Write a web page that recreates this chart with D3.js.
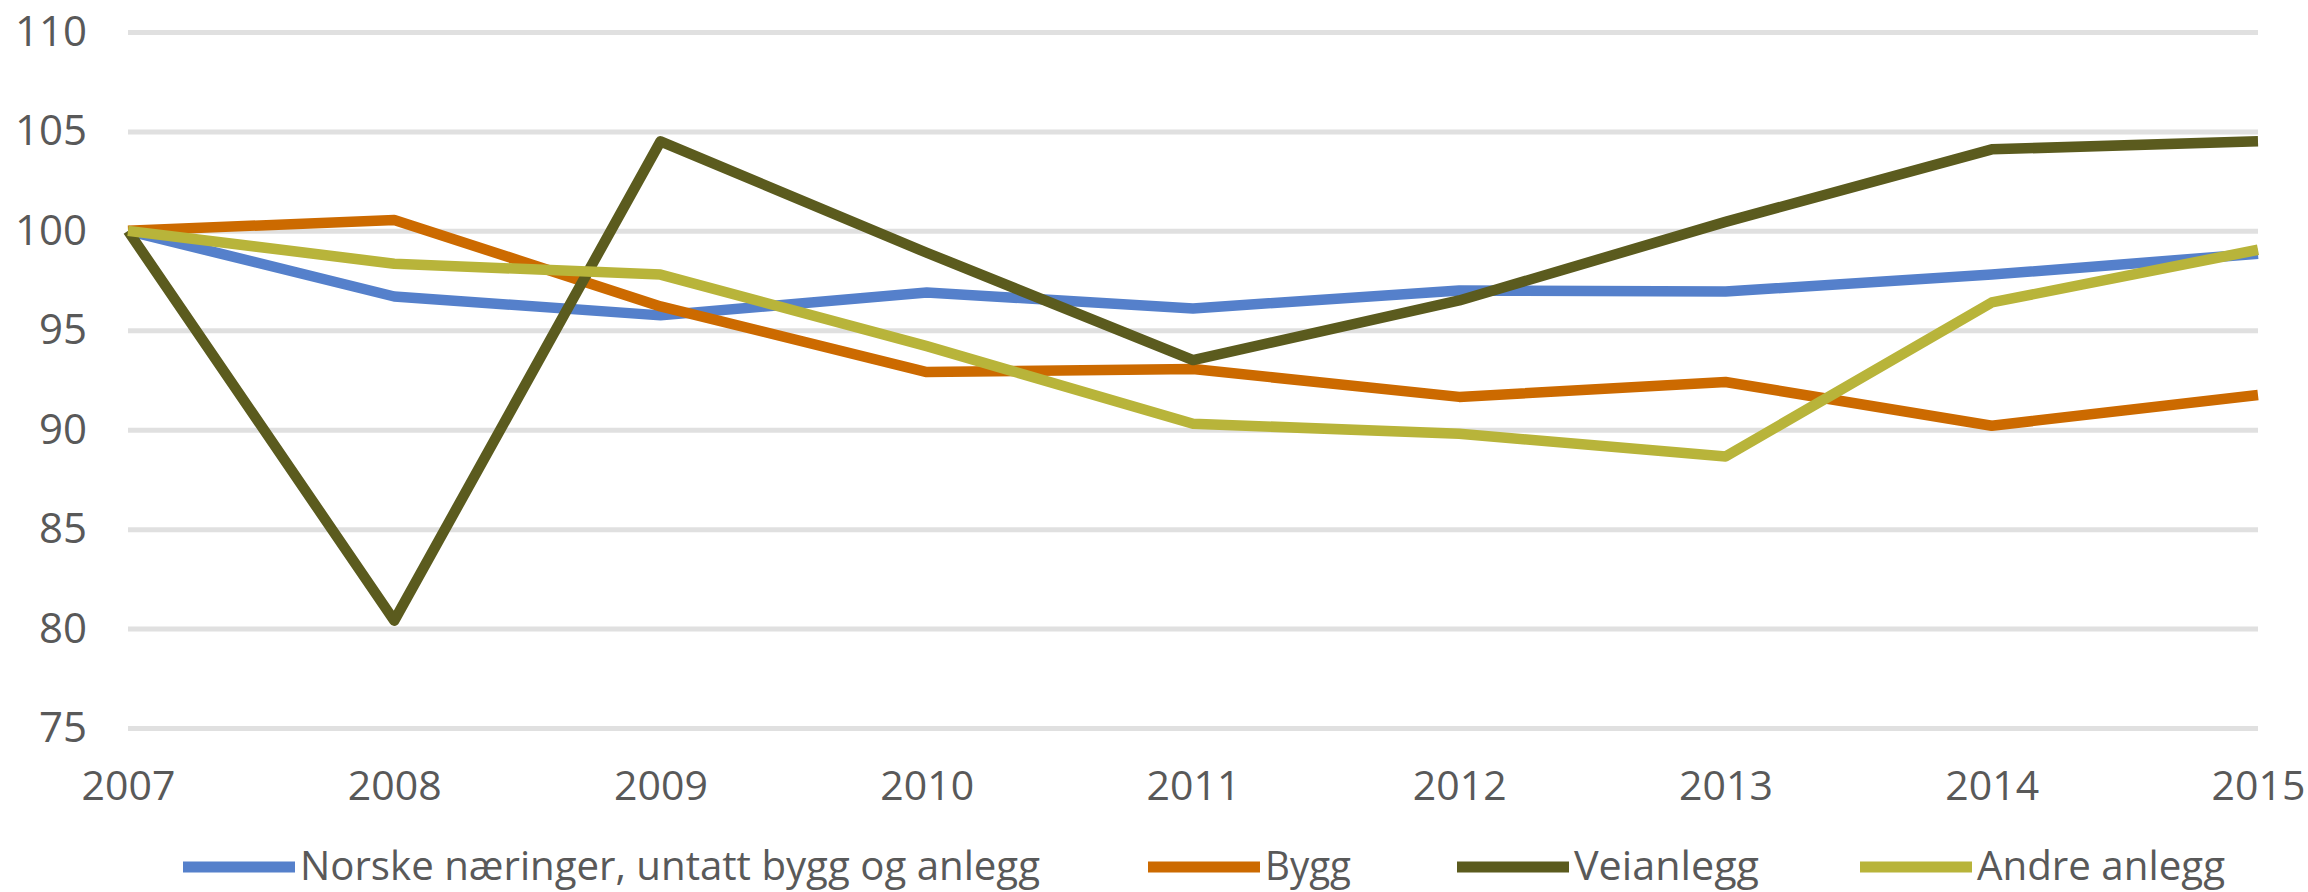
<!DOCTYPE html>
<html>
<head>
<meta charset="utf-8">
<script src="https://cdn.jsdelivr.net/npm/d3@7"></script>
<style>
  html, body { margin: 0; padding: 0; background: #fff; }
  svg { display: block; }
  .axis text { font-family: "Open Sans", sans-serif; fill: #595959; }
  .legend text { font-family: "Open Sans", sans-serif; fill: #595959; }
</style>
</head>
<body>
<svg id="chart" width="2308" height="892"></svg>
<script>
// chart data
var years = [2007, 2008, 2009, 2010, 2011, 2012, 2013, 2014, 2015];
var norske = [100, 96.7, 95.75, 96.9, 96.1, 97.0, 96.95, 97.8, 98.85];
var bygg = [100, 100.55, 96.2, 92.9, 93.05, 91.65, 92.4, 90.2, 91.75];
var veianlegg = [100, 80.4, 104.5, 98.9, 93.5, 96.5, 100.45, 104.1, 104.5];
var andre = [100, 98.35, 97.8, 94.2, 90.3, 89.8, 88.65, 96.4, 99.05];
var yTicks = [75, 80, 85, 90, 95, 100, 105, 110];
var seriesNames = ["Norske næringer, untatt bygg og anlegg", "Bygg", "Veianlegg", "Andre anlegg"];

var series = [
  { name: seriesNames[0], values: norske, color: "#5580cb" },
  { name: seriesNames[1], values: bygg, color: "#cc6a00" },
  { name: seriesNames[2], values: veianlegg, color: "#5b5b1e" },
  { name: seriesNames[3], values: andre, color: "#b8b43a" }
];

var svg = d3.select("#chart");

var x = d3.scaleLinear().domain([2007, 2015]).range([128, 2258]);
var y = d3.scaleLinear().domain([75, 110]).range([728, 32]);

// y axis with gridlines
var yAxis = svg.append("g")
  .attr("class", "axis")
  .attr("transform", "translate(128,0)")
  .call(d3.axisLeft(y).tickValues(yTicks).tickSize(-(2258 - 128)).tickPadding(41));
yAxis.select(".domain").remove();
yAxis.selectAll(".tick line").attr("stroke", "#e0e0e0").attr("stroke-width", 5);
yAxis.selectAll("text").attr("font-size", 42);

// x axis, labels only
var xAxis = svg.append("g")
  .attr("class", "axis")
  .attr("transform", "translate(0,728)")
  .call(d3.axisBottom(x).tickValues(years).tickFormat(d3.format("d")).tickSize(0).tickPadding(43));
xAxis.select(".domain").remove();
xAxis.selectAll("text").attr("font-size", 41);

var line = d3.line()
  .x(function(d, i) { return x(years[i]); })
  .y(function(d) { return y(d); });

svg.append("g").selectAll("path")
  .data(series)
  .enter()
  .append("path")
  .attr("d", function(s) { return line(s.values); })
  .attr("fill", "none")
  .attr("stroke", function(s) { return s.color; })
  .attr("stroke-width", 10.5)
  .attr("stroke-linejoin", "round");

// legend along the bottom
var legendPos = [183, 1148, 1457, 1860];
var legendWidth = [740, 86, 185, 248];

var legend = svg.append("g").attr("class", "legend");
var item = legend.selectAll("g")
  .data(series)
  .enter()
  .append("g")
  .attr("transform", function(s, i) { return "translate(" + legendPos[i] + ",867)"; });

item.append("line")
  .attr("x1", 0).attr("x2", 112)
  .attr("y1", 0).attr("y2", 0)
  .attr("stroke", function(s) { return s.color; })
  .attr("stroke-width", 11);

item.append("text")
  .attr("x", 117)
  .attr("y", 13)
  .attr("font-size", 40)
  .attr("textLength", function(s, i) { return legendWidth[i]; })
  .attr("lengthAdjust", "spacingAndGlyphs")
  .text(function(s) { return s.name; });
</script>
</body>
</html>
